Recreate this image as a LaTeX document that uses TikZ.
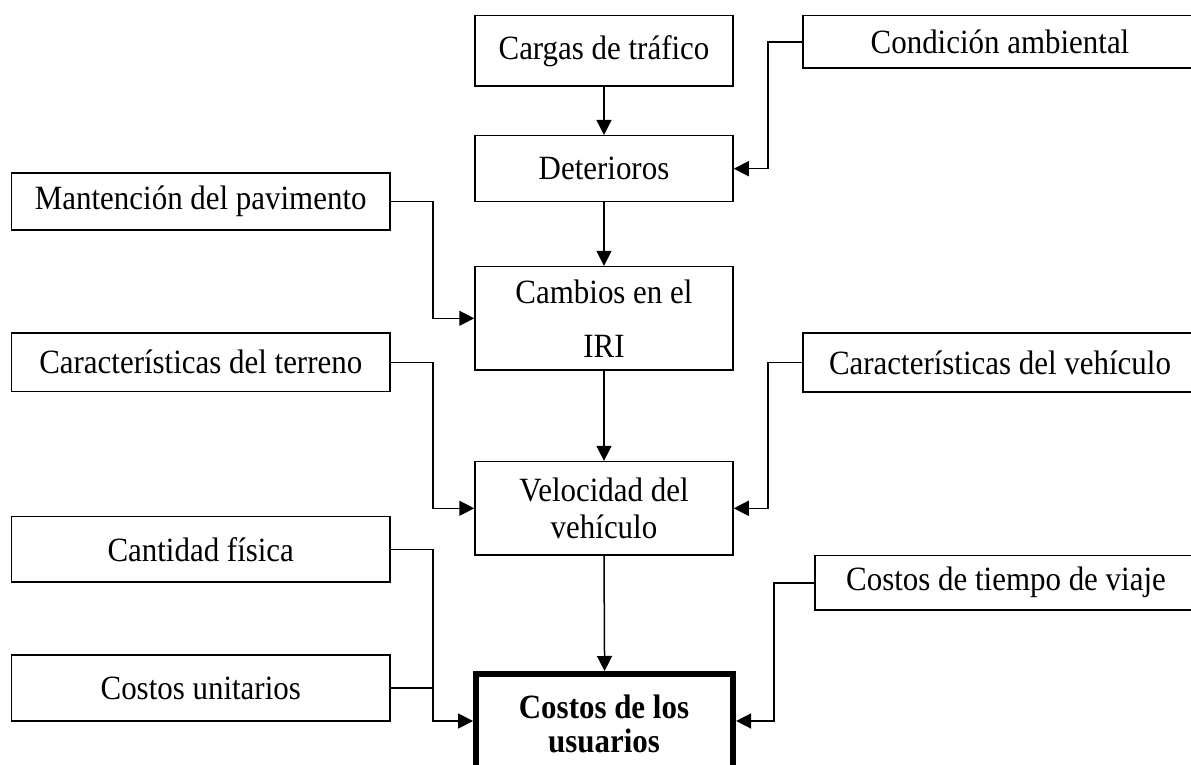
\documentclass[tikz,border=0pt]{standalone}
\usepackage{fontspec}
\setmainfont{Liberation Serif}[FakeStretch=0.91]
\usetikzlibrary{arrows.meta}
\begin{document}
\begin{tikzpicture}[x=0.5pt,y=-0.5pt,
  box/.style={draw, line width=0.75pt, inner sep=0pt, align=center,
    font=\fontsize{17pt}{18.5pt}\selectfont},
  ln/.style={line width=0.75pt},
  arr/.style={line width=0.75pt, -{Triangle[length=7.5pt,width=7.5pt]}}]
\useasboundingbox (0,0) rectangle (1191,765);
\clip (0,0) rectangle (1191,765);
% central column
\node[box, minimum width=129pt, minimum height=35.2pt] (cargas) at (604,50.9) {Cargas de tráfico};
\node[box, minimum width=129pt, minimum height=33pt] (det) at (604,168.7) {Deterioros};
\node[box, minimum width=129pt, minimum height=51.7pt,
  font=\fontsize{17pt}{27pt}\selectfont] (camb) at (604,318.3) {\raisebox{-2pt}{Cambios en el}\\\raisebox{-2pt}{IRI}};
\node[box, minimum width=129pt, minimum height=46.7pt] (vel) at (604,508.3) {Velocidad del\\vehículo};
\node[draw, line width=3pt, minimum width=128.5pt, minimum height=63pt, inner sep=0pt] (users) at (604.6,737) {};
\node[align=center, inner sep=0pt, font=\fontsize{17pt}{17pt}\selectfont\bfseries] (userstext) at (604,724) {Costos de los\\usuarios};
% left column
\node[box, minimum width=189.25pt, minimum height=28.5pt] (mant) at (200.75,201.5) {Mantención del pavimento};
\node[box, minimum width=189.25pt, minimum height=29.3pt] (terr) at (200.75,362.3) {Características del terreno};
\node[box, minimum width=189.25pt, minimum height=32.7pt] (cant) at (200.75,549.3) {Cantidad física};
\node[box, minimum width=189.25pt, minimum height=33pt] (unit) at (200.75,688) {Costos unitarios};
% right column
\node[box, minimum width=197pt, minimum height=26.2pt] (cond) at (1000,41.9) {Condición ambiental};
\node[box, minimum width=197pt, minimum height=29.5pt] (vehi) at (1000,362.5) {Características del vehículo};
\node[box, minimum width=191pt, minimum height=27.2pt] (tiempo) at (1006,582.8) {Costos de tiempo de viaje};
% helper coordinates
\coordinate (xl) at (433,0);
\coordinate (xr1) at (768,0);
\coordinate (xr2) at (774,0);
\coordinate (yu) at (0,721);
% vertical flow
\draw[arr] (cargas.south) -- (det.north);
\draw[arr] (det.south) -- (camb.north);
\draw[arr] (camb.south) -- (vel.north);
\draw[arr] (vel.south) -- (users.north);
% left inputs
\draw[arr] (mant.east) -- (mant.east -| xl) |- (camb.west);
\draw[arr] (terr.east) -- (terr.east -| xl) |- (vel.west);
\draw[ln] (cant.east) -| (unit.east -| xl);
\draw[arr] (unit.east) -- (unit.east -| xl) |- (users.west |- yu);
% right inputs
\draw[arr] (cond.west) -- (cond.west -| xr1) |- (det.east);
\draw[arr] (vehi.west) -- (vehi.west -| xr1) |- (vel.east);
\draw[arr] (tiempo.west) -- (tiempo.west -| xr2) |- (users.east |- yu);
\end{tikzpicture}
\end{document}
